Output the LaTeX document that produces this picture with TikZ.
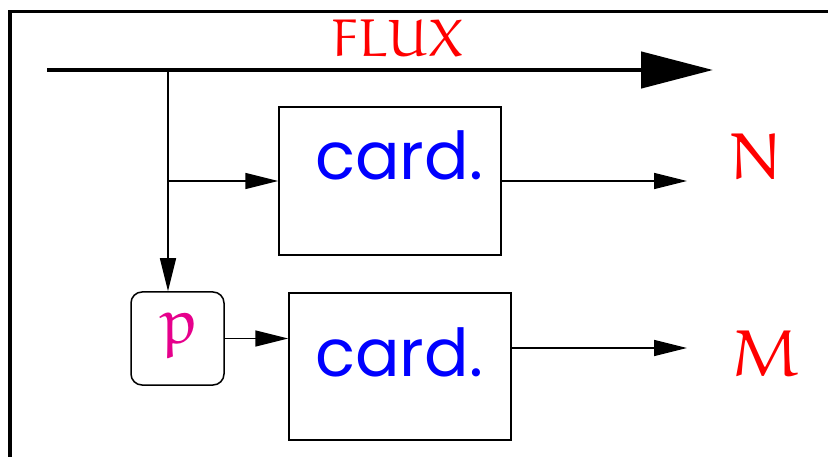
\documentclass[tikz,border=0pt]{standalone}
\usepackage{fontspec}
\newfontfamily\cardfont{Poppins}
\font\eulflux=eurm10 at 53pt
\font\eulbig=eurm10 at 66pt
\font\eulp=eurm10 at 65pt
\usetikzlibrary{arrows.meta}
\definecolor{pink}{RGB}{230,0,140}
\tikzset{
  thin line/.style={line width=1.5pt},
  box/.style={draw, line width=1.5pt, minimum width=222pt, minimum height=148pt, inner sep=0pt},
  pbox/.style={draw, line width=1.5pt, rounded corners=11pt, minimum width=93pt, minimum height=93pt, inner sep=0pt},
  txt/.style={inner sep=0pt, anchor=base},
  cardtxt/.style={txt, text=blue, font=\cardfont\fontsize{66}{70}\selectfont},
  eul/.style={txt, text=red},
  smallarrow/.style={thin line, -{Triangle[length=33pt,width=16pt]}},
  bigarrow/.style={line width=4.6pt, -{Triangle[length=72pt,width=36pt]}},
}
\begin{document}
\begin{tikzpicture}[x=1pt,y=-1pt]
\useasboundingbox (0,0) rectangle (828,457);
\fill[white] (0,0) rectangle (828,457);
% frame
\draw[line width=3.3pt] (10,460) -- (10,11.5) -- (830,11.5);
% flux arrow
\coordinate (fs) at (47,70);
\coordinate (fe) at (713,70);
\draw[bigarrow] (fs) -- (fe);
\node[eul, font=\eulflux] (flux) at (398,57) {FLUX};
% boxes
\node[box] (box1) at (390,181) {};
\node[box, minimum height=147pt] (box2) at (400,366.5) {};
\node[pbox] (pb) at (177.5,338.5) {};
\node[cardtxt] (c1) at (399,180) {card.};
\node[cardtxt] (c2) at (399,376) {card.};
\node[txt, text=pink, font=\eulp] (p) at (180,343) {p};
\node[eul, font=\eulbig] (N) at (756,180) {N};
\node[eul, font=\eulbig] (M) at (766,376) {M};
% connectors
\coordinate (j) at (168,70);
\coordinate (b) at (168,181);
\coordinate (n1) at (687,181);
\coordinate (n2) at (687,348);
\draw[thin line] (j) -- (b);
\draw[smallarrow] (b) -- (j |- pb.north);
\draw[smallarrow] (b) -- (box1.west);
\draw[smallarrow] (pb.east) -- (pb.east -| box2.west);
\draw[smallarrow] (box1.east) -- (n1);
\draw[smallarrow] (n2 -| box2.east) -- (n2);
\end{tikzpicture}
\end{document}
